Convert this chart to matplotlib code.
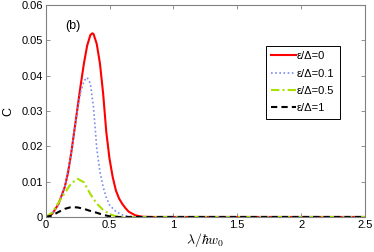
import matplotlib
matplotlib.use("Agg")
import matplotlib.pyplot as plt

plt.rcParams['font.family'] = ['Liberation Sans', 'DejaVu Sans']
plt.rcParams['mathtext.fontset'] = 'cm'

x_red = [0, 0.05, 0.1, 0.15, 0.175, 0.2, 0.225, 0.25, 0.275, 0.3, 0.325, 0.35, 0.365,
         0.375, 0.4, 0.425, 0.45, 0.475, 0.5, 0.525, 0.55, 0.575, 0.6, 0.625, 0.65,
         0.7, 0.75, 0.8, 2.5]
c_red = [0, 0.0008, 0.0036, 0.0085, 0.0125, 0.018, 0.0245, 0.031, 0.0375, 0.0435, 0.0485,
         0.0515, 0.052, 0.0518, 0.049, 0.0435, 0.035, 0.024, 0.0165, 0.0113, 0.0075,
         0.0052, 0.0037, 0.0025, 0.0015, 0.0005, 0.0001, 0, 0]

x_blue = [0, 0.05, 0.1, 0.15, 0.2, 0.225, 0.25, 0.275, 0.3, 0.325, 0.35, 0.375, 0.4,
          0.425, 0.45, 0.475, 0.5, 0.55, 0.6, 0.65, 0.7, 2.5]
c_blue = [0, 0.0008, 0.0036, 0.0085, 0.018, 0.0243, 0.0305, 0.0355, 0.0385, 0.0395,
          0.0378, 0.031, 0.0195, 0.0128, 0.0085, 0.0055, 0.0034, 0.0015, 0.0006,
          0.0002, 0, 0]

x_green = [0, 0.05, 0.1, 0.15, 0.2, 0.25, 0.3, 0.35, 0.4, 0.45, 0.5, 0.55, 0.6, 2.5]
c_green = [0, 0.0012, 0.0040, 0.0068, 0.0095, 0.0108, 0.0098, 0.0065, 0.0038, 0.002,
           0.0008, 0.0002, 0, 0]

x_black = [0, 0.05, 0.1, 0.15, 0.2, 0.25, 0.3, 0.35, 0.4, 0.45, 0.5, 0.55, 2.5]
c_black = [0, 0.0004, 0.0014, 0.0023, 0.0028, 0.0027, 0.0023, 0.0017, 0.0012, 0.0006,
           0.0002, 0, 0]

labels = ['ε/Δ=0', 'ε/Δ=0.1', 'ε/Δ=0.5', 'ε/Δ=1']
xticks = [0, 0.5, 1, 1.5, 2, 2.5]
xticklabels = ['0', '0.5', '1', '1.5', '2', '2.5']
yticks = [0, 0.01, 0.02, 0.03, 0.04, 0.05, 0.06]
yticklabels = ['0', '0.01', '0.02', '0.03', '0.04', '0.05', '0.06']

fig = plt.figure(figsize=(3.74, 2.52), dpi=100)
ax = fig.add_axes([0.122, 0.139, 0.854, 0.841])

ax.plot(x_red, c_red, color='red', lw=1.5, ls='-', label=labels[0])
ax.plot(x_blue, c_blue, color='#7b8cf0', lw=1.2, ls=(0, (1, 1.5)), label=labels[1])
ax.plot(x_green, c_green, color='#a8e000', lw=1.5, ls=(0, (4, 1.5, 1, 1.5)), label=labels[2])
ax.plot(x_black, c_black, color='black', lw=1.5, ls=(0, (3, 2)), label=labels[3])

ax.set_xlim(0, 2.5)
ax.set_ylim(0, 0.06)
ax.set_xticks(xticks)
ax.set_xticklabels(xticklabels)
ax.set_yticks(yticks)
ax.set_yticklabels(yticklabels)
ax.tick_params(direction='in', top=True, right=True, length=3, labelsize=8,
               color='#808080', width=0.6, pad=2)
for s in ax.spines.values():
    s.set_color('#808080')
    s.set_linewidth(0.8)

ax.set_xlabel(r'$\lambda/\hbar w_0$', fontsize=10, labelpad=1)
ax.set_ylabel('C', fontsize=9, labelpad=5)
ax.text(0.15, 0.054, '(b)', fontsize=9, va='center', ha='left')

leg = ax.legend(loc='upper left', bbox_to_anchor=(0.689, 0.808), fontsize=8,
                frameon=True, fancybox=False, edgecolor='black', framealpha=1,
                handlelength=2.2, handletextpad=0.1, labelspacing=0.65,
                borderpad=0.5, borderaxespad=0)
leg.get_frame().set_linewidth(0.7)

fig.savefig('out.png', dpi=100)
